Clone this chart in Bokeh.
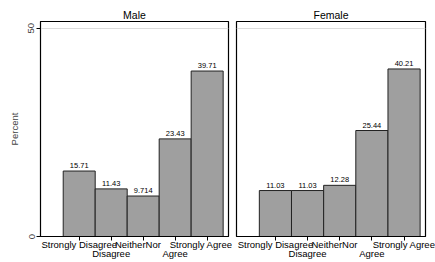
from bokeh.plotting import figure
from bokeh.layouts import row
from bokeh.models import ColumnDataSource, FixedTicker
from bokeh.embed import file_html
from bokeh.resources import INLINE
from bokeh.core.properties import value

# ---- data ----
categories = [1, 2, 3, 4, 5]
tick_labels = ["Strongly Disagree", "\nDisagree", "NeitherNor\u00a0\u00a0\u00a0\u00a0", "\nAgree", "Strongly Agree"]
male_pct = [15.71, 11.43, 9.714, 23.43, 39.71]
female_pct = [11.03, 11.03, 12.28, 25.44, 40.21]
panel_titles = ["Male", "Female"]
y_ticks = [0, 50]

FONT = "Liberation Sans"
BAR_FILL = "#9f9f9f"
X_RANGE = (-0.21, 5.667)
Y_RANGE = (0, 51.6)
H = 262


def make_panel(vals, title, width, border_left, border_right, show_y):
    p = figure(width=width, height=H, x_range=X_RANGE, y_range=Y_RANGE,
               output_backend="svg", toolbar_location=None,
               min_border_left=border_left, min_border_right=border_right,
               min_border_top=21, min_border_bottom=20)
    p.background_fill_color = "white"
    p.border_fill_color = "white"
    p.outline_line_color = "black"
    p.outline_line_width = 1.2

    p.title.text = title
    p.title.align = "center"
    p.title.text_font = FONT
    p.title.text_font_size = "10.5px"
    p.title.text_font_style = "normal"
    p.title.text_color = "black"
    p.title.standoff = 1

    src = ColumnDataSource(dict(x=categories, top=vals,
                                lab=["{:.4g}".format(v) for v in vals]))
    p.vbar(x="x", top="top", width=1, source=src, fill_color=BAR_FILL,
           line_color="#222222", line_width=1)
    p.text(x="x", y="top", text="lab", source=src, text_align="center",
           text_baseline="bottom", y_offset=-3, text_font=value(FONT),
           text_font_size="7.5px", text_color="black")

    # grid
    p.xgrid.visible = False
    p.ygrid.ticker = FixedTicker(ticks=[50])
    p.ygrid.grid_line_color = "#dcdcdc"
    p.ygrid.grid_line_width = 1

    # x axis
    xa = p.xaxis[0]
    xa.ticker = FixedTicker(ticks=categories)
    xa.major_label_overrides = {c: l for c, l in zip(categories, tick_labels)}
    xa.major_tick_out = 0
    xa.major_tick_in = -4
    xa.minor_tick_line_color = None
    xa.axis_line_color = "black"
    xa.major_tick_line_color = "black"
    xa.major_label_text_font = FONT
    xa.major_label_text_font_size = "9.5px"
    xa.major_label_text_line_height = 0.9
    xa.major_label_text_color = "black"
    xa.major_label_standoff = 2

    ya = p.yaxis[0]
    if show_y:
        ya.ticker = FixedTicker(ticks=y_ticks)
        ya.major_tick_out = 4
        ya.major_tick_in = 0
        ya.minor_tick_line_color = None
        ya.axis_line_color = "black"
        ya.major_label_orientation = "vertical"
        ya.major_label_text_font = FONT
        ya.major_label_text_font_size = "9.5px"
        ya.major_label_standoff = 2
        ya.axis_label = "Percent"
        ya.axis_label_text_font = FONT
        ya.axis_label_text_font_size = "9.5px"
        ya.axis_label_text_font_style = "normal"
        ya.axis_label_standoff = 6
    else:
        ya.visible = False
    return p


p1 = make_panel(male_pct, panel_titles[0], 232, 40, 4, True)
p2 = make_panel(female_pct, panel_titles[1], 203, 4, 10, False)
layout = row(p1, p2, spacing=0)

open("out.html", "w").write(file_html(layout, INLINE))
